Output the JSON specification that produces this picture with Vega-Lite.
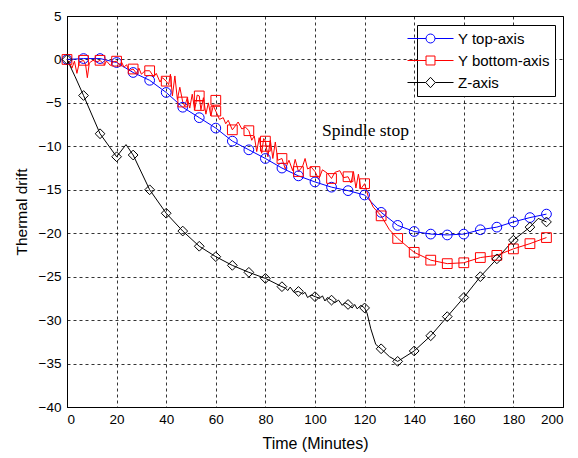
{
  "$schema": "https://vega.github.io/schema/vega-lite/v6.json",
  "width": 496,
  "height": 391,
  "autosize": {"type": "none"},
  "padding": {"left": 67, "top": 16, "right": 15, "bottom": 51},
  "background": "white",
  "config": {
    "view": {"stroke": "black", "strokeWidth": 1},
    "font": "Liberation Sans",
    "axis": {
      "domainColor": "black",
      "ticks": false,
      "grid": true,
      "gridColor": "black",
      "gridDash": [3, 3],
      "gridOpacity": 1,
      "gridWidth": 0.8,
      "labelFont": "Liberation Sans",
      "labelFontSize": 13.5,
      "labelColor": "black",
      "titleFont": "Liberation Sans",
      "titleFontSize": 15.5,
      "titleFontWeight": "normal",
      "titleColor": "black"
    }
  },
  "datasets": {
    "lines": [
      {"series": "Y top-axis", "t": 0, "v": 0},
      {"series": "Y top-axis", "t": 6.67, "v": 0.1},
      {"series": "Y top-axis", "t": 13.33, "v": 0.1},
      {"series": "Y top-axis", "t": 20, "v": -0.35},
      {"series": "Y top-axis", "t": 26.67, "v": -1.5},
      {"series": "Y top-axis", "t": 33.33, "v": -2.4},
      {"series": "Y top-axis", "t": 40, "v": -3.8},
      {"series": "Y top-axis", "t": 46.67, "v": -5.5},
      {"series": "Y top-axis", "t": 53.33, "v": -6.7},
      {"series": "Y top-axis", "t": 60, "v": -7.9},
      {"series": "Y top-axis", "t": 66.67, "v": -9.4},
      {"series": "Y top-axis", "t": 73.33, "v": -10.4},
      {"series": "Y top-axis", "t": 80, "v": -11.4},
      {"series": "Y top-axis", "t": 86.67, "v": -12.5},
      {"series": "Y top-axis", "t": 93.33, "v": -13.4},
      {"series": "Y top-axis", "t": 100, "v": -14.1},
      {"series": "Y top-axis", "t": 106.67, "v": -14.7},
      {"series": "Y top-axis", "t": 113.33, "v": -15.1},
      {"series": "Y top-axis", "t": 120, "v": -15.6},
      {"series": "Y top-axis", "t": 126.67, "v": -17.6},
      {"series": "Y top-axis", "t": 133.33, "v": -19.1},
      {"series": "Y top-axis", "t": 140, "v": -19.8},
      {"series": "Y top-axis", "t": 146.67, "v": -20.1},
      {"series": "Y top-axis", "t": 153.33, "v": -20.2},
      {"series": "Y top-axis", "t": 160, "v": -20.1},
      {"series": "Y top-axis", "t": 166.67, "v": -19.6},
      {"series": "Y top-axis", "t": 173.33, "v": -19.3},
      {"series": "Y top-axis", "t": 180, "v": -18.7},
      {"series": "Y top-axis", "t": 186.67, "v": -18.2},
      {"series": "Y top-axis", "t": 193.33, "v": -17.8},

      {"series": "Y bottom-axis", "t": 0, "v": 0},
      {"series": "Y bottom-axis", "t": 1, "v": -0.4},
      {"series": "Y bottom-axis", "t": 2, "v": -1.0},
      {"series": "Y bottom-axis", "t": 3, "v": -0.2},
      {"series": "Y bottom-axis", "t": 4, "v": -1.6},
      {"series": "Y bottom-axis", "t": 5, "v": -0.3},
      {"series": "Y bottom-axis", "t": 6.67, "v": -0.1},
      {"series": "Y bottom-axis", "t": 7.5, "v": -0.6},
      {"series": "Y bottom-axis", "t": 8.2, "v": -2.1},
      {"series": "Y bottom-axis", "t": 9, "v": -0.4},
      {"series": "Y bottom-axis", "t": 10.5, "v": -0.1},
      {"series": "Y bottom-axis", "t": 12, "v": -0.3},
      {"series": "Y bottom-axis", "t": 13.33, "v": -0.1},
      {"series": "Y bottom-axis", "t": 15, "v": -0.6},
      {"series": "Y bottom-axis", "t": 16, "v": -0.2},
      {"series": "Y bottom-axis", "t": 17.5, "v": -0.7},
      {"series": "Y bottom-axis", "t": 18.5, "v": -0.3},
      {"series": "Y bottom-axis", "t": 20, "v": -0.2},
      {"series": "Y bottom-axis", "t": 21, "v": -0.6},
      {"series": "Y bottom-axis", "t": 22, "v": -0.3},
      {"series": "Y bottom-axis", "t": 23, "v": -0.9},
      {"series": "Y bottom-axis", "t": 24, "v": -0.6},
      {"series": "Y bottom-axis", "t": 25, "v": -1.3},
      {"series": "Y bottom-axis", "t": 26.67, "v": -1.1},
      {"series": "Y bottom-axis", "t": 28, "v": -1.6},
      {"series": "Y bottom-axis", "t": 29, "v": -1.0},
      {"series": "Y bottom-axis", "t": 30, "v": -1.7},
      {"series": "Y bottom-axis", "t": 31.5, "v": -1.3},
      {"series": "Y bottom-axis", "t": 33.33, "v": -1.3},
      {"series": "Y bottom-axis", "t": 35, "v": -2.0},
      {"series": "Y bottom-axis", "t": 36, "v": -1.6},
      {"series": "Y bottom-axis", "t": 37.5, "v": -2.6},
      {"series": "Y bottom-axis", "t": 38.5, "v": -2.1},
      {"series": "Y bottom-axis", "t": 40, "v": -2.5},
      {"series": "Y bottom-axis", "t": 41, "v": -2.9},
      {"series": "Y bottom-axis", "t": 41.7, "v": -1.7},
      {"series": "Y bottom-axis", "t": 42.5, "v": -4.2},
      {"series": "Y bottom-axis", "t": 43.5, "v": -1.9},
      {"series": "Y bottom-axis", "t": 44.5, "v": -4.6},
      {"series": "Y bottom-axis", "t": 45.5, "v": -3.2},
      {"series": "Y bottom-axis", "t": 46.67, "v": -4.9},
      {"series": "Y bottom-axis", "t": 47.5, "v": -5.4},
      {"series": "Y bottom-axis", "t": 48.5, "v": -4.4},
      {"series": "Y bottom-axis", "t": 49.5, "v": -5.6},
      {"series": "Y bottom-axis", "t": 50.5, "v": -4.0},
      {"series": "Y bottom-axis", "t": 51.5, "v": -5.8},
      {"series": "Y bottom-axis", "t": 52.5, "v": -4.1},
      {"series": "Y bottom-axis", "t": 53.33, "v": -4.2},
      {"series": "Y bottom-axis", "t": 54, "v": -5.8},
      {"series": "Y bottom-axis", "t": 55, "v": -4.4},
      {"series": "Y bottom-axis", "t": 56, "v": -6.3},
      {"series": "Y bottom-axis", "t": 57, "v": -5.0},
      {"series": "Y bottom-axis", "t": 58, "v": -6.5},
      {"series": "Y bottom-axis", "t": 59, "v": -5.3},
      {"series": "Y bottom-axis", "t": 60, "v": -5.95},
      {"series": "Y bottom-axis", "t": 61.5, "v": -6.9},
      {"series": "Y bottom-axis", "t": 63, "v": -6.7},
      {"series": "Y bottom-axis", "t": 64, "v": -7.4},
      {"series": "Y bottom-axis", "t": 65, "v": -7.0},
      {"series": "Y bottom-axis", "t": 66.67, "v": -8.1},
      {"series": "Y bottom-axis", "t": 68, "v": -7.6},
      {"series": "Y bottom-axis", "t": 69, "v": -7.2},
      {"series": "Y bottom-axis", "t": 70.5, "v": -8.0},
      {"series": "Y bottom-axis", "t": 72, "v": -7.8},
      {"series": "Y bottom-axis", "t": 73.33, "v": -8.2},
      {"series": "Y bottom-axis", "t": 74.5, "v": -9.3},
      {"series": "Y bottom-axis", "t": 75.5, "v": -8.8},
      {"series": "Y bottom-axis", "t": 76.5, "v": -10.6},
      {"series": "Y bottom-axis", "t": 77.5, "v": -9.0},
      {"series": "Y bottom-axis", "t": 78.5, "v": -10.8},
      {"series": "Y bottom-axis", "t": 79.3, "v": -9.1},
      {"series": "Y bottom-axis", "t": 80, "v": -9.4},
      {"series": "Y bottom-axis", "t": 81, "v": -11.2},
      {"series": "Y bottom-axis", "t": 82, "v": -9.3},
      {"series": "Y bottom-axis", "t": 83, "v": -11.4},
      {"series": "Y bottom-axis", "t": 84, "v": -9.5},
      {"series": "Y bottom-axis", "t": 85, "v": -11.6},
      {"series": "Y bottom-axis", "t": 86.67, "v": -11.4},
      {"series": "Y bottom-axis", "t": 88, "v": -12.6},
      {"series": "Y bottom-axis", "t": 89.5, "v": -11.6},
      {"series": "Y bottom-axis", "t": 91, "v": -12.8},
      {"series": "Y bottom-axis", "t": 92, "v": -11.5},
      {"series": "Y bottom-axis", "t": 93.33, "v": -12.9},
      {"series": "Y bottom-axis", "t": 95, "v": -12.3},
      {"series": "Y bottom-axis", "t": 96, "v": -11.4},
      {"series": "Y bottom-axis", "t": 97, "v": -12.6},
      {"series": "Y bottom-axis", "t": 98.5, "v": -12.4},
      {"series": "Y bottom-axis", "t": 100, "v": -12.9},
      {"series": "Y bottom-axis", "t": 101.5, "v": -13.8},
      {"series": "Y bottom-axis", "t": 103, "v": -12.7},
      {"series": "Y bottom-axis", "t": 105, "v": -13.1},
      {"series": "Y bottom-axis", "t": 106.67, "v": -13.7},
      {"series": "Y bottom-axis", "t": 108, "v": -13.0},
      {"series": "Y bottom-axis", "t": 110, "v": -12.8},
      {"series": "Y bottom-axis", "t": 111.5, "v": -13.6},
      {"series": "Y bottom-axis", "t": 113.33, "v": -13.5},
      {"series": "Y bottom-axis", "t": 114.5, "v": -14.2},
      {"series": "Y bottom-axis", "t": 115.5, "v": -12.9},
      {"series": "Y bottom-axis", "t": 116.5, "v": -14.8},
      {"series": "Y bottom-axis", "t": 117.5, "v": -13.2},
      {"series": "Y bottom-axis", "t": 118.5, "v": -14.9},
      {"series": "Y bottom-axis", "t": 120, "v": -14.3},
      {"series": "Y bottom-axis", "t": 121.5, "v": -15.8},
      {"series": "Y bottom-axis", "t": 123.5, "v": -17.0},
      {"series": "Y bottom-axis", "t": 126.67, "v": -18.0},
      {"series": "Y bottom-axis", "t": 130, "v": -19.6},
      {"series": "Y bottom-axis", "t": 133.33, "v": -20.6},
      {"series": "Y bottom-axis", "t": 140, "v": -22.2},
      {"series": "Y bottom-axis", "t": 146.67, "v": -23.1},
      {"series": "Y bottom-axis", "t": 153.33, "v": -23.5},
      {"series": "Y bottom-axis", "t": 160, "v": -23.4},
      {"series": "Y bottom-axis", "t": 166.67, "v": -22.8},
      {"series": "Y bottom-axis", "t": 173.33, "v": -22.55},
      {"series": "Y bottom-axis", "t": 180, "v": -21.8},
      {"series": "Y bottom-axis", "t": 186.67, "v": -21.2},
      {"series": "Y bottom-axis", "t": 193.33, "v": -20.5},

      {"series": "Z-axis", "t": 0, "v": 0},
      {"series": "Z-axis", "t": 3.3, "v": -2.0},
      {"series": "Z-axis", "t": 6.67, "v": -4.15},
      {"series": "Z-axis", "t": 13.33, "v": -8.55},
      {"series": "Z-axis", "t": 20, "v": -11.2},
      {"series": "Z-axis", "t": 23.8, "v": -9.8},
      {"series": "Z-axis", "t": 26.67, "v": -11.0},
      {"series": "Z-axis", "t": 33.33, "v": -15.0},
      {"series": "Z-axis", "t": 40, "v": -17.7},
      {"series": "Z-axis", "t": 46.67, "v": -19.75},
      {"series": "Z-axis", "t": 53.33, "v": -21.5},
      {"series": "Z-axis", "t": 60, "v": -22.7},
      {"series": "Z-axis", "t": 66.67, "v": -23.7},
      {"series": "Z-axis", "t": 73.33, "v": -24.5},
      {"series": "Z-axis", "t": 80, "v": -25.2},
      {"series": "Z-axis", "t": 86.67, "v": -26.15},
      {"series": "Z-axis", "t": 88, "v": -26.3},
      {"series": "Z-axis", "t": 89, "v": -26.6},
      {"series": "Z-axis", "t": 90, "v": -26.2},
      {"series": "Z-axis", "t": 91.5, "v": -26.8},
      {"series": "Z-axis", "t": 93.33, "v": -26.7},
      {"series": "Z-axis", "t": 95, "v": -27.0},
      {"series": "Z-axis", "t": 96, "v": -26.8},
      {"series": "Z-axis", "t": 97, "v": -27.4},
      {"series": "Z-axis", "t": 98.5, "v": -27.1},
      {"series": "Z-axis", "t": 100, "v": -27.3},
      {"series": "Z-axis", "t": 102, "v": -27.5},
      {"series": "Z-axis", "t": 103, "v": -27.2},
      {"series": "Z-axis", "t": 104, "v": -27.8},
      {"series": "Z-axis", "t": 105, "v": -27.4},
      {"series": "Z-axis", "t": 106.67, "v": -27.7},
      {"series": "Z-axis", "t": 108, "v": -28.0},
      {"series": "Z-axis", "t": 109.5, "v": -27.7},
      {"series": "Z-axis", "t": 111, "v": -28.3},
      {"series": "Z-axis", "t": 112, "v": -28.0},
      {"series": "Z-axis", "t": 113.33, "v": -28.2},
      {"series": "Z-axis", "t": 115, "v": -28.6},
      {"series": "Z-axis", "t": 116, "v": -28.2},
      {"series": "Z-axis", "t": 117, "v": -28.7},
      {"series": "Z-axis", "t": 118.5, "v": -28.3},
      {"series": "Z-axis", "t": 120, "v": -28.6},
      {"series": "Z-axis", "t": 121, "v": -29.2},
      {"series": "Z-axis", "t": 122.5, "v": -31.0},
      {"series": "Z-axis", "t": 124.5, "v": -32.8},
      {"series": "Z-axis", "t": 126.67, "v": -33.3},
      {"series": "Z-axis", "t": 130, "v": -34.2},
      {"series": "Z-axis", "t": 133.33, "v": -34.75},
      {"series": "Z-axis", "t": 140, "v": -33.55},
      {"series": "Z-axis", "t": 146.67, "v": -31.8},
      {"series": "Z-axis", "t": 153.33, "v": -29.6},
      {"series": "Z-axis", "t": 160, "v": -27.4},
      {"series": "Z-axis", "t": 166.67, "v": -25.0},
      {"series": "Z-axis", "t": 173.33, "v": -22.95},
      {"series": "Z-axis", "t": 180, "v": -20.8},
      {"series": "Z-axis", "t": 186.67, "v": -19.3},
      {"series": "Z-axis", "t": 190, "v": -18.3},
      {"series": "Z-axis", "t": 193.33, "v": -18.7}
    ],
    "markers": [
      {"series": "Y top-axis", "t": 0, "v": 0},
      {"series": "Y top-axis", "t": 6.67, "v": 0.1},
      {"series": "Y top-axis", "t": 13.33, "v": 0.1},
      {"series": "Y top-axis", "t": 20, "v": -0.35},
      {"series": "Y top-axis", "t": 26.67, "v": -1.5},
      {"series": "Y top-axis", "t": 33.33, "v": -2.4},
      {"series": "Y top-axis", "t": 40, "v": -3.8},
      {"series": "Y top-axis", "t": 46.67, "v": -5.5},
      {"series": "Y top-axis", "t": 53.33, "v": -6.7},
      {"series": "Y top-axis", "t": 60, "v": -7.9},
      {"series": "Y top-axis", "t": 66.67, "v": -9.4},
      {"series": "Y top-axis", "t": 73.33, "v": -10.4},
      {"series": "Y top-axis", "t": 80, "v": -11.4},
      {"series": "Y top-axis", "t": 86.67, "v": -12.5},
      {"series": "Y top-axis", "t": 93.33, "v": -13.4},
      {"series": "Y top-axis", "t": 100, "v": -14.1},
      {"series": "Y top-axis", "t": 106.67, "v": -14.7},
      {"series": "Y top-axis", "t": 113.33, "v": -15.1},
      {"series": "Y top-axis", "t": 120, "v": -15.6},
      {"series": "Y top-axis", "t": 126.67, "v": -17.6},
      {"series": "Y top-axis", "t": 133.33, "v": -19.1},
      {"series": "Y top-axis", "t": 140, "v": -19.8},
      {"series": "Y top-axis", "t": 146.67, "v": -20.1},
      {"series": "Y top-axis", "t": 153.33, "v": -20.2},
      {"series": "Y top-axis", "t": 160, "v": -20.1},
      {"series": "Y top-axis", "t": 166.67, "v": -19.6},
      {"series": "Y top-axis", "t": 173.33, "v": -19.3},
      {"series": "Y top-axis", "t": 180, "v": -18.7},
      {"series": "Y top-axis", "t": 186.67, "v": -18.2},
      {"series": "Y top-axis", "t": 193.33, "v": -17.8},

      {"series": "Y bottom-axis", "t": 0, "v": 0},
      {"series": "Y bottom-axis", "t": 6.67, "v": -0.1},
      {"series": "Y bottom-axis", "t": 13.33, "v": -0.1},
      {"series": "Y bottom-axis", "t": 20, "v": -0.2},
      {"series": "Y bottom-axis", "t": 26.67, "v": -1.1},
      {"series": "Y bottom-axis", "t": 33.33, "v": -1.3},
      {"series": "Y bottom-axis", "t": 40, "v": -2.5},
      {"series": "Y bottom-axis", "t": 46.67, "v": -4.9},
      {"series": "Y bottom-axis", "t": 53.33, "v": -4.2},
      {"series": "Y bottom-axis", "t": 53.33, "v": -5.3},
      {"series": "Y bottom-axis", "t": 60, "v": -5.95},
      {"series": "Y bottom-axis", "t": 60, "v": -4.7},
      {"series": "Y bottom-axis", "t": 66.67, "v": -8.1},
      {"series": "Y bottom-axis", "t": 73.33, "v": -8.2},
      {"series": "Y bottom-axis", "t": 80, "v": -9.4},
      {"series": "Y bottom-axis", "t": 80, "v": -10.0},
      {"series": "Y bottom-axis", "t": 86.67, "v": -11.4},
      {"series": "Y bottom-axis", "t": 93.33, "v": -12.9},
      {"series": "Y bottom-axis", "t": 100, "v": -12.9},
      {"series": "Y bottom-axis", "t": 106.67, "v": -13.7},
      {"series": "Y bottom-axis", "t": 113.33, "v": -13.5},
      {"series": "Y bottom-axis", "t": 120, "v": -14.3},
      {"series": "Y bottom-axis", "t": 126.67, "v": -18.0},
      {"series": "Y bottom-axis", "t": 133.33, "v": -20.6},
      {"series": "Y bottom-axis", "t": 140, "v": -22.2},
      {"series": "Y bottom-axis", "t": 146.67, "v": -23.1},
      {"series": "Y bottom-axis", "t": 153.33, "v": -23.5},
      {"series": "Y bottom-axis", "t": 160, "v": -23.4},
      {"series": "Y bottom-axis", "t": 166.67, "v": -22.8},
      {"series": "Y bottom-axis", "t": 173.33, "v": -22.55},
      {"series": "Y bottom-axis", "t": 180, "v": -21.8},
      {"series": "Y bottom-axis", "t": 186.67, "v": -21.2},
      {"series": "Y bottom-axis", "t": 193.33, "v": -20.5},

      {"series": "Z-axis", "t": 0, "v": 0},
      {"series": "Z-axis", "t": 6.67, "v": -4.15},
      {"series": "Z-axis", "t": 13.33, "v": -8.55},
      {"series": "Z-axis", "t": 20, "v": -11.2},
      {"series": "Z-axis", "t": 26.67, "v": -11.0},
      {"series": "Z-axis", "t": 33.33, "v": -15.0},
      {"series": "Z-axis", "t": 40, "v": -17.7},
      {"series": "Z-axis", "t": 46.67, "v": -19.75},
      {"series": "Z-axis", "t": 53.33, "v": -21.5},
      {"series": "Z-axis", "t": 60, "v": -22.7},
      {"series": "Z-axis", "t": 66.67, "v": -23.7},
      {"series": "Z-axis", "t": 73.33, "v": -24.5},
      {"series": "Z-axis", "t": 80, "v": -25.2},
      {"series": "Z-axis", "t": 86.67, "v": -26.15},
      {"series": "Z-axis", "t": 93.33, "v": -26.7},
      {"series": "Z-axis", "t": 100, "v": -27.3},
      {"series": "Z-axis", "t": 106.67, "v": -27.7},
      {"series": "Z-axis", "t": 113.33, "v": -28.2},
      {"series": "Z-axis", "t": 120, "v": -28.6},
      {"series": "Z-axis", "t": 126.67, "v": -33.3},
      {"series": "Z-axis", "t": 133.33, "v": -34.75},
      {"series": "Z-axis", "t": 140, "v": -33.55},
      {"series": "Z-axis", "t": 146.67, "v": -31.8},
      {"series": "Z-axis", "t": 153.33, "v": -29.6},
      {"series": "Z-axis", "t": 160, "v": -27.4},
      {"series": "Z-axis", "t": 166.67, "v": -25.0},
      {"series": "Z-axis", "t": 173.33, "v": -22.95},
      {"series": "Z-axis", "t": 180, "v": -20.8},
      {"series": "Z-axis", "t": 186.67, "v": -19.3},
      {"series": "Z-axis", "t": 193.33, "v": -18.7}
    ],
    "notes": [
      {"label": "Spindle stop", "t": 102.8, "v": -8.86}
    ]
  },
  "layer": [
    {
      "mark": {"type": "rule", "strokeDash": [5, 2], "strokeWidth": 1.5, "color": "black"},
      "encoding": {
        "x": {"datum": 120, "type": "quantitative", "scale": {"domain": [0, 200], "nice": false}},
        "y": {"datum": -10.9, "type": "quantitative", "scale": {"domain": [-40, 5], "nice": false}},
        "y2": {"datum": -40}
      }
    },
    {
      "encoding": {
        "x": {
          "field": "t", "type": "quantitative",
          "scale": {"domain": [0, 200], "nice": false},
          "axis": {"values": [0, 20, 40, 60, 80, 100, 120, 140, 160, 180, 200], "title": "Time (Minutes)", "labelPadding": 5, "titlePadding": 10, "titleFontSize": 16}
        },
        "y": {
          "field": "v", "type": "quantitative",
          "scale": {"domain": [-40, 5], "nice": false},
          "axis": {"values": [-40, -35, -30, -25, -20, -15, -10, -5, 0, 5], "title": "Thermal drift", "labelPadding": 6, "titlePadding": 9}
        },
        "color": {
          "field": "series", "type": "nominal",
          "scale": {"domain": ["Y top-axis", "Y bottom-axis", "Z-axis"], "range": ["#0000ff", "#ff0000", "#000000"]},
          "legend": {
            "orient": "none", "legendX": 350, "legendY": 9,
            "title": null,
            "strokeColor": "black", "fillColor": "white",
            "padding": 5,
            "labelFont": "Liberation Sans", "labelFontSize": 15, "labelColor": "black",
            "symbolSize": 256, "symbolStrokeWidth": 1, "labelOffset": 19, "rowPadding": 5,
            "symbolType": "M-2.875,0H-0.56M0.56,0H2.875M0.56,0A0.56,0.56 0 1 1 -0.56,0A0.56,0.56 0 1 1 0.56,0",
            "encode": {
              "symbols": {
                "update": {
                  "shape": {"signal": "datum.value === 'Y top-axis' ? 'M-3.5,0M-2.875,0H-0.56M0.56,0H2.875M0.56,0A0.56,0.56 0 1 1 -0.56,0A0.56,0.56 0 1 1 0.56,0' : datum.value === 'Y bottom-axis' ? 'M-3.5,0M-2.875,0H-0.56M0.56,0H2.875M-0.56,-0.56H0.56V0.56H-0.56Z' : 'M-3.5,0M-2.875,0H-0.6M0.6,0H2.875M-0.6,0L0,-0.65L0.6,0L0,0.65Z'"},
                  "fill": {"value": "transparent"},
                  "strokeWidth": {"value": 1}
                }
              }
            }
          }
        }
      },
      "layer": [
        {
          "data": {"name": "lines"},
          "mark": {"type": "line", "strokeWidth": 1, "interpolate": "linear"}
        },
        {
          "data": {"name": "markers"},
          "mark": {
            "type": "point", "filled": false, "strokeWidth": 1, "size": 95, "opacity": 1,
            "shape": {"expr": "datum.series === 'Y top-axis' ? 'circle' : datum.series === 'Y bottom-axis' ? 'square' : 'diamond'"}
          }
        }
      ]
    },
    {
      "data": {"name": "notes"},
      "mark": {"type": "text", "align": "left", "baseline": "alphabetic", "font": "Liberation Serif", "fontSize": 17.5, "color": "black"},
      "encoding": {
        "x": {"field": "t", "type": "quantitative"},
        "y": {"field": "v", "type": "quantitative"},
        "text": {"field": "label"}
      }
    }
  ]
}
